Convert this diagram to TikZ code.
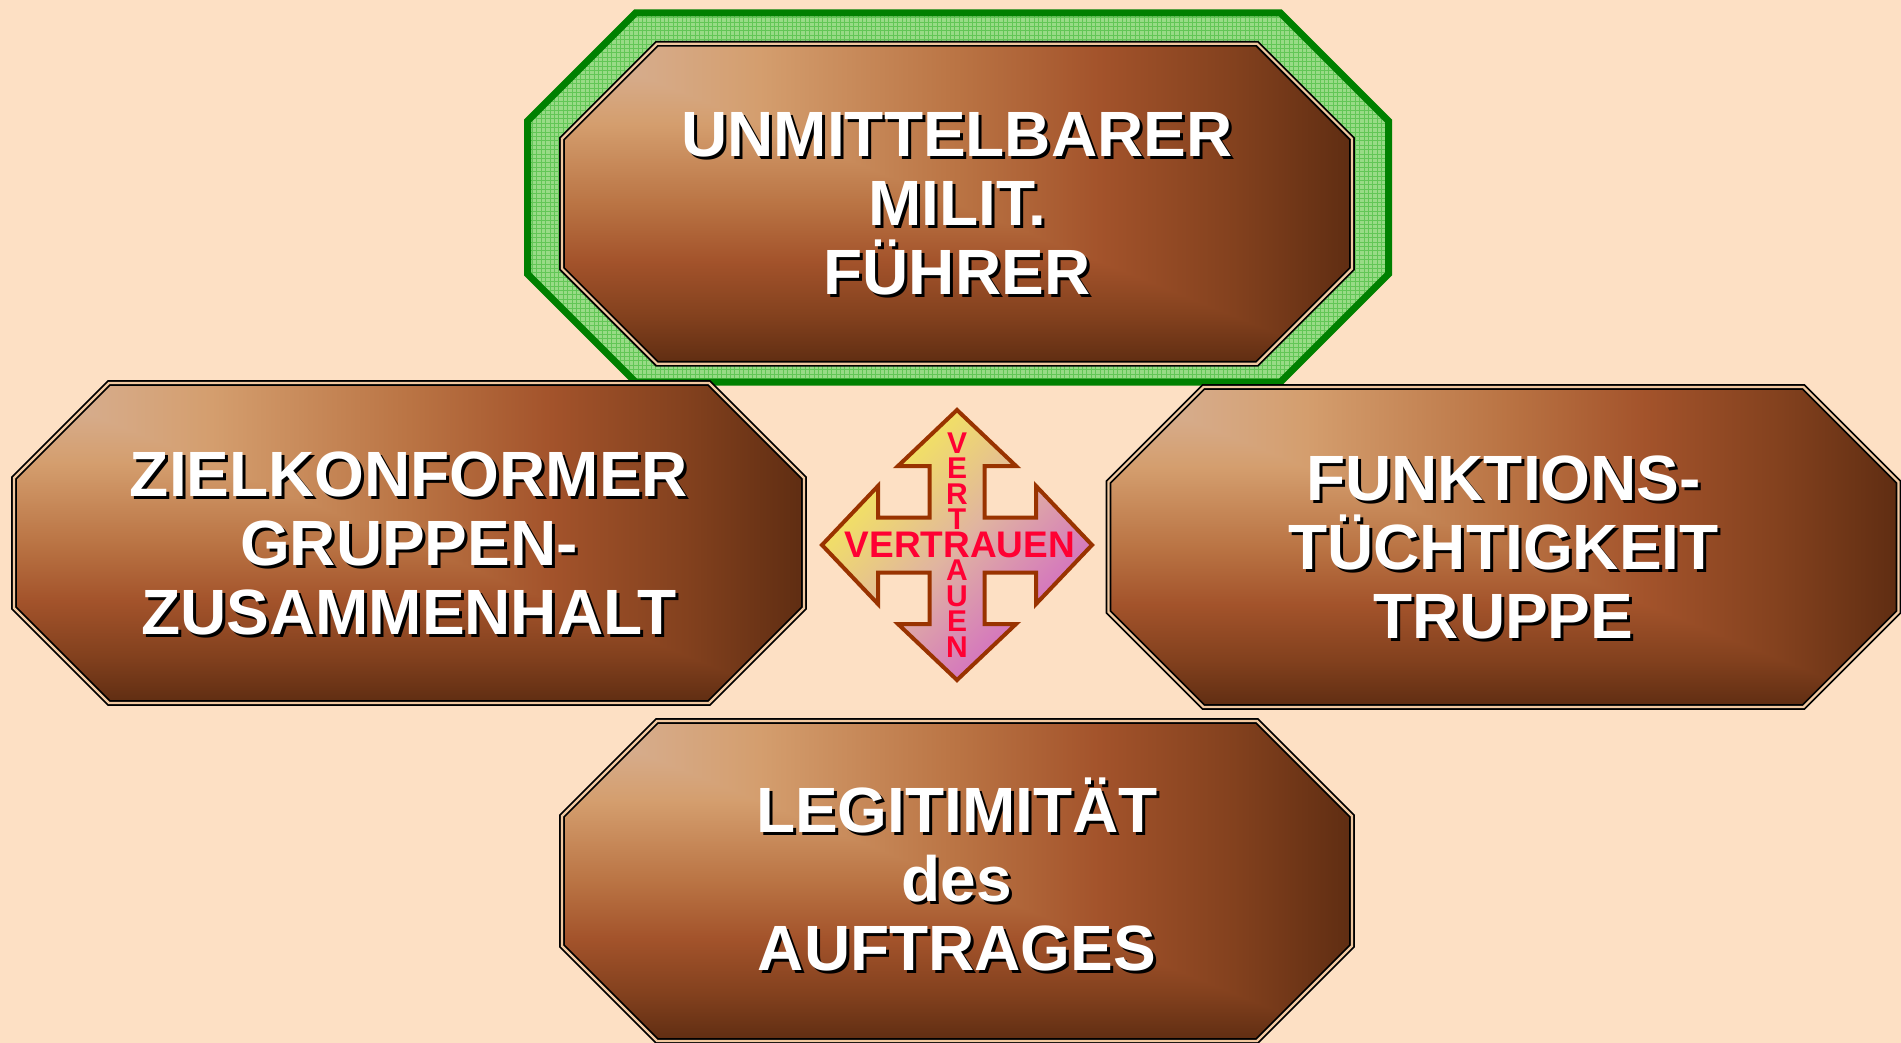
\documentclass[tikz,border=0pt]{standalone}
\usepackage{fontspec}
\setmainfont{Liberation Sans}
\definecolor{bg}{HTML}{FDE0C4}
\definecolor{gline}{HTML}{008000}
\definecolor{gfill}{HTML}{98DB86}
\definecolor{ggrid}{HTML}{62C656}
\definecolor{bA}{HTML}{D8B49C}
\definecolor{bB}{HTML}{D49E6E}
\definecolor{bC}{HTML}{BA7444}
\definecolor{bD}{HTML}{A3532B}
\definecolor{bE}{HTML}{83411E}
\definecolor{bF}{HTML}{5F2D12}
\definecolor{borderlight}{HTML}{F0C8A0}
\definecolor{arrline}{HTML}{993300}
\definecolor{arrA}{HTML}{F8F050}
\definecolor{arrB}{HTML}{E0B4A0}
\definecolor{arrC}{HTML}{D060C8}
\definecolor{vred}{HTML}{FF0033}
\pgfdeclarehorizontalshading{brownh}{100bp}{color(0bp)=(bA); color(25bp)=(bA); color(37.5bp)=(bB); color(50bp)=(bC); color(59bp)=(bD); color(67.5bp)=(bE); color(75bp)=(bF); color(100bp)=(bF)}
\pgfdeclareverticalshading{brownv}{100bp}{color(0bp)=(bF); color(25bp)=(bF); color(32.5bp)=(bE); color(41bp)=(bD); color(50bp)=(bC); color(62.5bp)=(bB); color(75bp)=(bA); color(100bp)=(bA)}
\tikzset{
 boxborder/.style={draw=black, line width=0.9pt, double=borderlight, double distance=1.1pt, line join=miter},
 boxtext/.style={text=white, font=\bfseries\fontsize{32}{34.5}\selectfont, align=center, inner sep=0pt},
 arrowshape/.style={draw=arrline, line width=2pt, line join=miter, top color=arrA, bottom color=arrC, middle color=arrB, shading angle=45},
 hword/.style={text=vred, font=\bfseries\fontsize{18.5}{18.5}\selectfont, inner sep=0pt},
 vword/.style={text=vred, font=\bfseries\fontsize{15}{12.75}\selectfont, align=center, inner sep=0pt},
}
\newcommand\sh[1]{\makebox[0pt][l]{\hspace{1.5pt}\raisebox{-1.5pt}[0pt][0pt]{\textcolor{black}{#1}}}#1}
\newcommand\octpath[1]{\path[#1] (-300,-160) -- (300,-160) -- (395,-65) -- (395,65) -- (300,160) -- (-300,160) -- (-395,65) -- (-395,-65) -- cycle;}
\newcommand\brownbox[5]{%
 \begin{scope}[shift={(#1,#2)}]
  \begin{scope}
   \octpath{clip}
   \shade[shading=brownv] (-395,-160) rectangle (395,160);
   \shade[shading=brownh] (-395,-160) -- (395,-160) -- (395,160) -- cycle;
  \end{scope}
  \octpath{boxborder}
  \node[boxtext] (#3) at (0,#4) {#5};
 \end{scope}}
\begin{document}
\begin{tikzpicture}[x=0.5pt,y=-0.5pt]
\fill[bg] (0,0) rectangle (1901,1043);
\useasboundingbox (0,0) rectangle (1901,1043);
% green frame
\begin{scope}
 \clip (635.5,13) -- (1280.5,13) -- (1388.5,121) -- (1388.5,274) -- (1280.5,382) -- (635.5,382) -- (527.5,274) -- (527.5,121) -- cycle;
 \fill[gfill] (520,0) rectangle (1400,390);
 \draw[ggrid, line width=0.35pt, step=2.2pt] (520,0) grid (1400,390);
\end{scope}
\draw[gline, line width=3.5pt, line join=miter] (635.5,13) -- (1280.5,13) -- (1388.5,121) -- (1388.5,274) -- (1280.5,382) -- (635.5,382) -- (527.5,274) -- (527.5,121) -- cycle;
% boxes
\brownbox{957}{203.7}{top}{0}{\sh{UNMITTELBARER}\\\sh{MILIT.}\\\sh{FÜHRER}}
\brownbox{409}{543}{left}{0}{\sh{ZIELKONFORMER}\\\sh{GRUPPEN-}\\\sh{ZUSAMMENHALT}}
\brownbox{1503.5}{547}{right}{0}{\sh{FUNKTIONS-}\\\sh{TÜCHTIGKEIT}\\\sh{TRUPPE}}
\brownbox{957}{881}{bottom}{-7}{\sh{LEGITIMITÄT}\\\sh{des}\\\sh{AUFTRAGES}}
% cross arrow
\begin{scope}[shift={(957,545)}]
\shade[arrowshape] (0,-135) -- (59,-79) -- (27.5,-79) -- (27.5,-27.5) -- (79,-27.5) -- (79,-59) -- (135,0) -- (79,59) -- (79,27.5) -- (27.5,27.5) -- (27.5,79) -- (59,79) -- (0,135) -- (-59,79) -- (-27.5,79) -- (-27.5,27.5) -- (-79,27.5) -- (-79,59) -- (-135,0) -- (-79,-59) -- (-79,-27.5) -- (-27.5,-27.5) -- (-27.5,-79) -- (-59,-79) -- cycle;
\node[vword] (vt) at (0,0) {V\\E\\R\\T\\\phantom{R}\\A\\U\\E\\N};
\node[hword] (ht) at (3,0) {VERTRAUEN};
\end{scope}
\end{tikzpicture}
\end{document}
